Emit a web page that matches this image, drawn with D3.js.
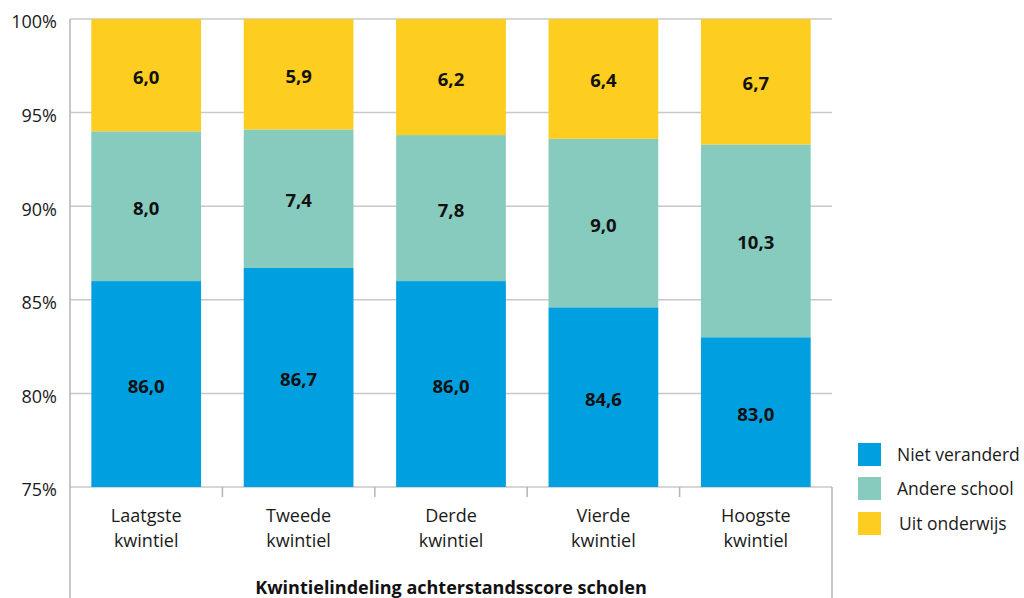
<!DOCTYPE html>
<html><head><meta charset="utf-8">
<script src="https://cdn.jsdelivr.net/npm/d3@7"></script>
<style>body{margin:0;background:#fff}text{font-family:"Open Sans","Noto Sans",sans-serif}</style>
</head><body><svg id="c" width="1024" height="598"></svg>
<script>
const categories = [["Laatgste","kwintiel"],["Tweede","kwintiel"],["Derde","kwintiel"],["Vierde","kwintiel"],["Hoogste","kwintiel"]];
const seriesNames = ["Niet veranderd","Andere school","Uit onderwijs"];
const nietVeranderd = [86.0, 86.7, 86.0, 84.6, 83.0];
const andereSchool = [8.0, 7.4, 7.8, 9.0, 10.3];
const uitOnderwijs = [6.0, 5.9, 6.2, 6.4, 6.7];
const yTicks = [75, 80, 85, 90, 95, 100];
const colors = ["#009fe0", "#86cbbe", "#fdcd1f"];
const axisTitle = "Kwintielindeling achterstandsscore scholen";

const svg = d3.select("#c");
const pL = 70, pR = 832, pT = 19, pB = 487;
const x = d3.scaleBand().domain(d3.range(categories.length)).range([pL, pR]).paddingInner(0.28).paddingOuter(0.14);
const xb = d3.scaleBand().domain(d3.range(categories.length)).range([pL, pR]);
const y = d3.scaleLinear().domain([75, 100]).range([pB, pT]);
const fmt = v => d3.format(".1f")(v).replace(".", ",");

// gridlines
svg.append("g").selectAll("line").data(yTicks).join("line")
  .attr("x1", pL).attr("x2", pR).attr("y1", d => y(d)).attr("y2", d => y(d))
  .attr("stroke", "#c8c8c8").attr("stroke-width", 1.5);
// y labels
svg.append("g").selectAll("text").data(yTicks).join("text")
  .attr("x", 57).attr("y", d => y(d) + 3).attr("dy", "0.35em").attr("text-anchor", "end")
  .attr("font-size", 18).attr("fill", "#1a1a1a").text(d => d + "%");

const data = [nietVeranderd, andereSchool, uitOnderwijs];
const stacked = categories.map((c, i) => {
  let acc = 0;
  return data.map((s, k) => { const d = {i, k, v: s[i], y0: acc, y1: acc + s[i]}; acc += s[i]; return d; });
}).flat();
const lo = v => Math.max(75, v);
svg.append("g").selectAll("rect").data(stacked).join("rect")
  .attr("x", d => x(d.i)).attr("width", x.bandwidth())
  .attr("y", d => y(lo(d.y1))).attr("height", d => y(lo(d.y0)) - y(lo(d.y1)))
  .attr("fill", d => colors[d.k]);
svg.append("g").selectAll("text").data(stacked).join("text")
  .attr("x", d => x(d.i) + x.bandwidth() / 2)
  .attr("y", d => (y(lo(d.y0)) + y(lo(d.y1))) / 2 + 2)
  .attr("dy", "0.35em").attr("text-anchor", "middle")
  .attr("font-size", 18.5).attr("font-weight", "bold").attr("fill", "#111")
  .text(d => fmt(d.v));

// axes lines
const axisC = "#b4b4b4";
svg.append("line").attr("x1", pL).attr("x2", pL).attr("y1", pT).attr("y2", 598).attr("stroke", axisC).attr("stroke-width", 1.5);
svg.append("line").attr("x1", pR).attr("x2", pR).attr("y1", pB).attr("y2", 598).attr("stroke", axisC).attr("stroke-width", 1.5);
svg.append("g").selectAll("line").data(d3.range(1, categories.length)).join("line")
  .attr("x1", d => xb(d)).attr("x2", d => xb(d)).attr("y1", pB).attr("y2", pB + 10)
  .attr("stroke", axisC).attr("stroke-width", 1.5);
// category labels
const cl = svg.append("g").selectAll("text").data(categories).join("text")
  .attr("text-anchor", "middle").attr("font-size", 18).attr("fill", "#1a1a1a");
cl.each(function(d, i) {
  d3.select(this).selectAll("tspan").data(d).join("tspan")
    .attr("x", xb(i) + xb.bandwidth() / 2).attr("y", (t, j) => 522 + j * 25).text(t => t);
});
svg.append("text").attr("x", (pL + pR) / 2).attr("y", 594).attr("text-anchor", "middle")
  .attr("font-size", 18).attr("font-weight", "bold").attr("fill", "#111").text(axisTitle);

// legend
const lg = svg.append("g");
seriesNames.forEach((n, k) => {
  const yy = [443, 477, 512][k];
  lg.append("rect").attr("x", 858).attr("y", yy).attr("width", 23).attr("height", 23).attr("fill", colors[k]);
  lg.append("text").attr("x", 897 + (k === 2 ? 2 : 0)).attr("y", yy + 11.5).attr("dy", "0.35em")
    .attr("font-size", 17.5).attr("fill", "#1a1a1a").text(n);
});
</script></body></html>
